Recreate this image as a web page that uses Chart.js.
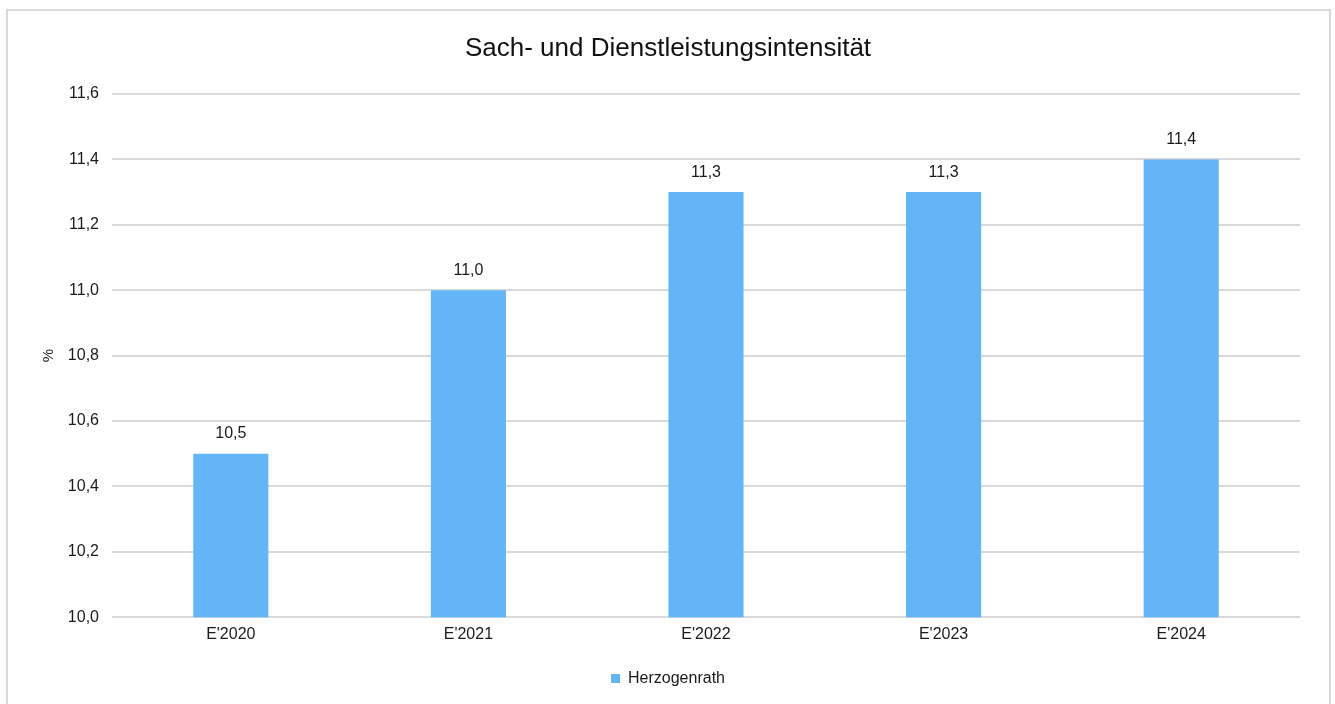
<!DOCTYPE html>
<html>
<head>
<meta charset="utf-8">
<script src="https://cdn.jsdelivr.net/npm/chart.js@4"></script>
<style>
  html, body { margin: 0; padding: 0; background: #fff; }
  #wrap { position: relative; width: 1335px; height: 704px; overflow: hidden; }
  #frame { position: absolute; left: 6px; top: 9px; width: 1321px; height: 720px;
           border: 2px solid #d9d9d9; box-sizing: content-box; pointer-events: none; }
  canvas { position: absolute; left: 0; top: 0; }
</style>
</head>
<body>
<div id="wrap">
  <canvas id="c" width="1335" height="704"></canvas>
  <div id="frame"></div>
</div>
<script>
const categories = ["E'2020", "E'2021", "E'2022", "E'2023", "E'2024"];
const values = [10.5, 11.0, 11.3, 11.3, 11.4];
const seriesName = "Herzogenrath";
const chartTitle = "Sach- und Dienstleistungsintensität";
const yTitle = "%";

const FONT = "'Liberation Sans', Arial, sans-serif";
const fmt = v => v.toFixed(1).replace('.', ',');

// writes each bar's value just above it
const valueLabels = {
  id: 'valueLabels',
  afterDatasetsDraw(chart) {
    const ctx = chart.ctx;
    const meta = chart.getDatasetMeta(0);
    ctx.save();
    ctx.font = "16px " + FONT;
    ctx.fillStyle = "#1a1a1a";
    ctx.textAlign = "center";
    ctx.textBaseline = "middle";
    meta.data.forEach((bar, i) => {
      ctx.fillText(fmt(values[i]), bar.x, bar.y - 20);
    });
    ctx.restore();
  }
};

new Chart(document.getElementById('c'), {
  type: 'bar',
  data: {
    labels: categories,
    datasets: [{
      label: seriesName,
      data: values,
      backgroundColor: '#64b5f6',
      borderWidth: 0,
      barPercentage: 1,
      categoryPercentage: 0.316
    }]
  },
  options: {
    responsive: false,
    animation: false,
    devicePixelRatio: 1,
    layout: { padding: { left: 36, right: 35, top: 0, bottom: 7.4 } },
    plugins: {
      title: {
        display: true,
        text: chartTitle,
        color: '#111',
        font: { family: FONT, size: 26, weight: 'normal' },
        padding: { top: 33, bottom: 29.8 }
      },
      legend: {
        position: 'bottom',
        labels: {
          color: '#1a1a1a',
          font: { family: FONT, size: 16 },
          boxWidth: 9,
          boxHeight: 9,
          padding: 10
        }
      },
      tooltip: { enabled: false }
    },
    scales: {
      x: {
        grid: { display: false, drawTicks: false },
        border: { display: false },
        ticks: { color: '#1a1a1a', font: { family: FONT, size: 16 }, padding: 7.4 },
        afterFit(scale) { scale.height = 43.4; }
      },
      y: {
        min: 10.0,
        max: 11.6,
        grid: { color: '#d9d9d9', lineWidth: 2, drawTicks: false },
        border: { display: false },
        ticks: {
          stepSize: 0.2,
          color: '#1a1a1a',
          font: { family: FONT, size: 16 },
          padding: 13,
          callback: v => fmt(v)
        },
        title: {
          display: true,
          text: yTitle,
          color: '#1a1a1a',
          font: { family: FONT, size: 15 },
          padding: { top: 4, bottom: 4 }
        },
        afterFit(scale) { scale.width = 76; }
      }
    }
  },
  plugins: [valueLabels]
});
</script>
</body>
</html>
